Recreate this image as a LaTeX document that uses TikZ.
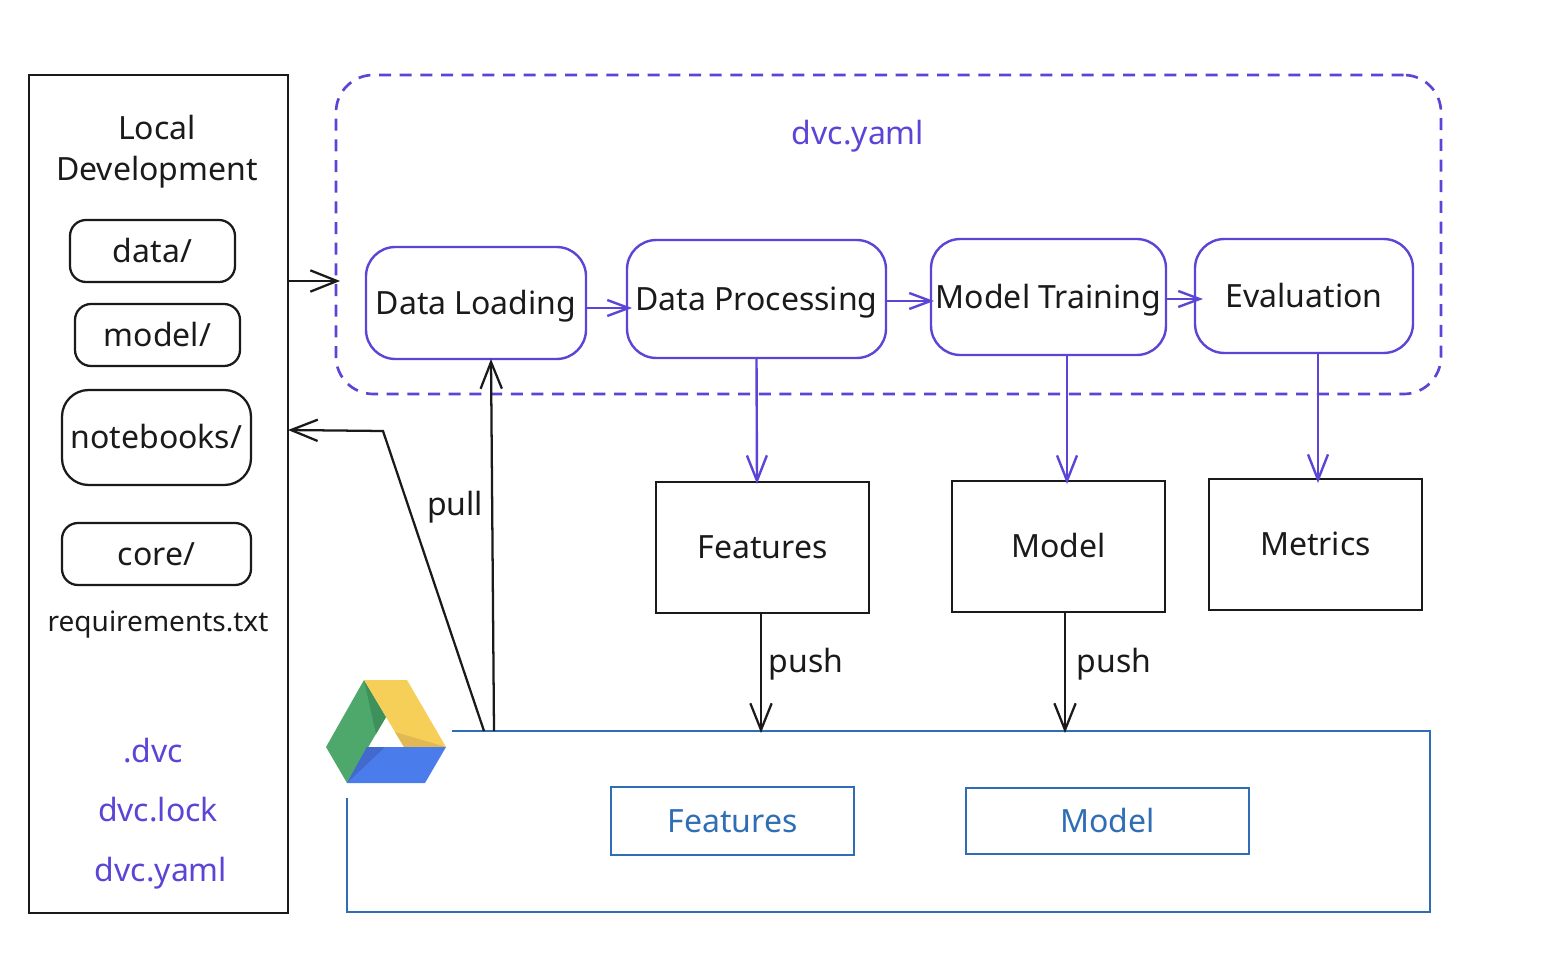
\documentclass[tikz,border=0pt]{standalone}
\usepackage{fontspec}
\setmainfont{Noto Sans}
\usepackage{xcolor}
\usetikzlibrary{arrows.meta, positioning}
\definecolor{dvcpurple}{HTML}{5B45D6}
\definecolor{driveblue}{HTML}{2F6DB5}
\definecolor{inkblack}{HTML}{1A1A1A}

\tikzset{
	sized/.style 2 args={minimum width=#1*0.75pt, minimum height=#2*0.75pt, inner sep=0pt, outer sep=0pt},
	title/.style={text=inkblack, font=\fontsize{24}{31}\selectfont, inner sep=0pt, align=center},
	label/.style={title, text height=20pt, text depth=3pt},
	purplelabel/.style={label, text=dvcpurple},
	folder/.style={draw=inkblack, line width=1.7pt, rounded corners=12pt, label},
	stepbox/.style={draw=dvcpurple, line width=1.8pt, rounded corners=22pt, label},
	artifact/.style={draw=inkblack, line width=1.7pt, label},
	stored/.style={draw=driveblue, line width=1.7pt, label, text=driveblue},
	flow/.style={-{Straight Barb[length=19pt,width=15pt]}, draw=dvcpurple, line width=1.8pt},
	smallflow/.style={-{Straight Barb[length=16pt,width=12pt]}, draw=dvcpurple, line width=1.8pt},
	sync/.style={-{Straight Barb[length=20pt,width=16pt]}, draw=inkblack, line width=1.7pt},
}

\begin{document}
\begin{tikzpicture}[x=0.75pt, y=-0.75pt]
	\useasboundingbox (0,0) rectangle (1542,970);

	% Local side
	\node[sized={259}{838}, draw=inkblack, line width=1.7pt] (local) at (158.5,494) {};
	\node[title] (localtitle) at (157,152) {Local\\Development};
	\node[folder, sized={165}{62}] (data) at (152.5,251) {data/};
	\node[folder, sized={165}{62}] (modeldir) at (157.5,335) {model/};
	\node[folder, sized={189}{95}, rounded corners=20pt] (notebooks) at (156.5,437.5) {notebooks/};
	\node[folder, sized={189}{62}] (core) at (156.5,554) {core/};
	\node[label, font=\fontsize{21}{24}\selectfont] (requirements) at (158,620) {requirements.txt};
	\node[purplelabel] (dotdvc) at (153,751) {.dvc};
	\node[purplelabel] (dvclock) at (158,810) {dvc.lock};
	\node[purplelabel] (localyaml) at (161,870) {dvc.yaml};

	% Pipeline
	\node[sized={1105}{319}, draw=dvcpurple, line width=2pt, dashed, dash pattern=on 9pt off 6.5pt, rounded corners=28pt] (pipeline) at (888.5,234.5) {};
	\node[purplelabel] (pipelinename) at (858,133) {dvc.yaml};
	\node[stepbox, sized={220}{112}] (load) at (476,303) {Data Loading};
	\node[stepbox, sized={259}{118}] (proc) at (756.5,299) {Data Processing};
	\node[stepbox, sized={235}{116}] (train) at (1048.5,297) {Model Training};
	\node[stepbox, sized={218}{114}] (eval) at (1304,296) {Evaluation};

	% Outputs
	\node[artifact, sized={213}{131}] (features) at (762.5,547.5) {Features};
	\node[artifact, sized={213}{131}] (modelout) at (1058.5,546.5) {Model};
	\node[artifact, sized={213}{131}] (metrics) at (1315.5,544.5) {Metrics};

	% Drive
	\node[sized={1083}{181}] (remote) at (888.5,821.5) {};
	\draw[draw=driveblue, line width=1.7pt] (452,0 |- remote.north) -- (remote.north east) -- (remote.south east) -- (remote.south west) -- (remote.west |- 0,798);
	\node[stored, sized={243}{68}] (remotefeatures) at (732.5,821) {Features};
	\node[stored, sized={283}{66}] (remotemodel) at (1107.5,821) {Model};

	% Drive logo
	\fill[color={rgb,255:red,79;green,168;blue,107}] (326,747) -- (364,680) -- (386,717) -- (347,783) -- cycle;
	\fill[color={rgb,255:red,62;green,145;blue,90}] (364,680) -- (386,717) -- (376,734) -- cycle;
	\fill[color={rgb,255:red,246;green,207;blue,88}] (364,680) -- (407,680) -- (446,747) -- (404,747) -- cycle;
	\fill[color={rgb,255:red,224;green,184;blue,84}] (395,732) -- (446,747) -- (404,747) -- cycle;
	\fill[color={rgb,255:red,74;green,124;blue,236}] (367,747) -- (446,747) -- (425,783) -- (347,783) -- cycle;
	\fill[color={rgb,255:red,66;green,106;blue,205}] (367,747) -- (385,747) -- (347,783) -- cycle;

	% Arrows
	\draw[sync] (local.east |- 0,281) -- (340,281);
	\draw[smallflow] (load.east |- 0,308) -- (632,308);
	\draw[smallflow] (proc.east |- 0,301) -- (934,301);
	\draw[smallflow] (train.east |- 0,299) -- (1203,299);
	\draw[flow] (proc.south) -- (757,484);
	\draw[flow] (1067,0 |- train.south) -- (1067,484);
	\draw[flow] (1318,0 |- eval.south) -- (1318,483);
	\draw[sync, shorten >=-1.5pt] (761,0 |- features.south) -- (761,0 |- remote.north) node[pos=.41, right=5pt, label] (pushfeatures) {push};
	\draw[sync, shorten >=-1.5pt] (1065,0 |- modelout.south) -- (1065,0 |- remote.north) node[pos=.41, right=8pt, label] (pushmodel) {push};
	\draw[sync] (494,0 |- remote.north) -- (491,0 |- load.south);
	\coordinate (pullbend) at (383,431);
	\draw[sync] (484,0 |- remote.north) -- (pullbend) -- (local.east |- 0,430);
	\node[label] (pull) at (455,504) {pull};
\end{tikzpicture}
\end{document}
